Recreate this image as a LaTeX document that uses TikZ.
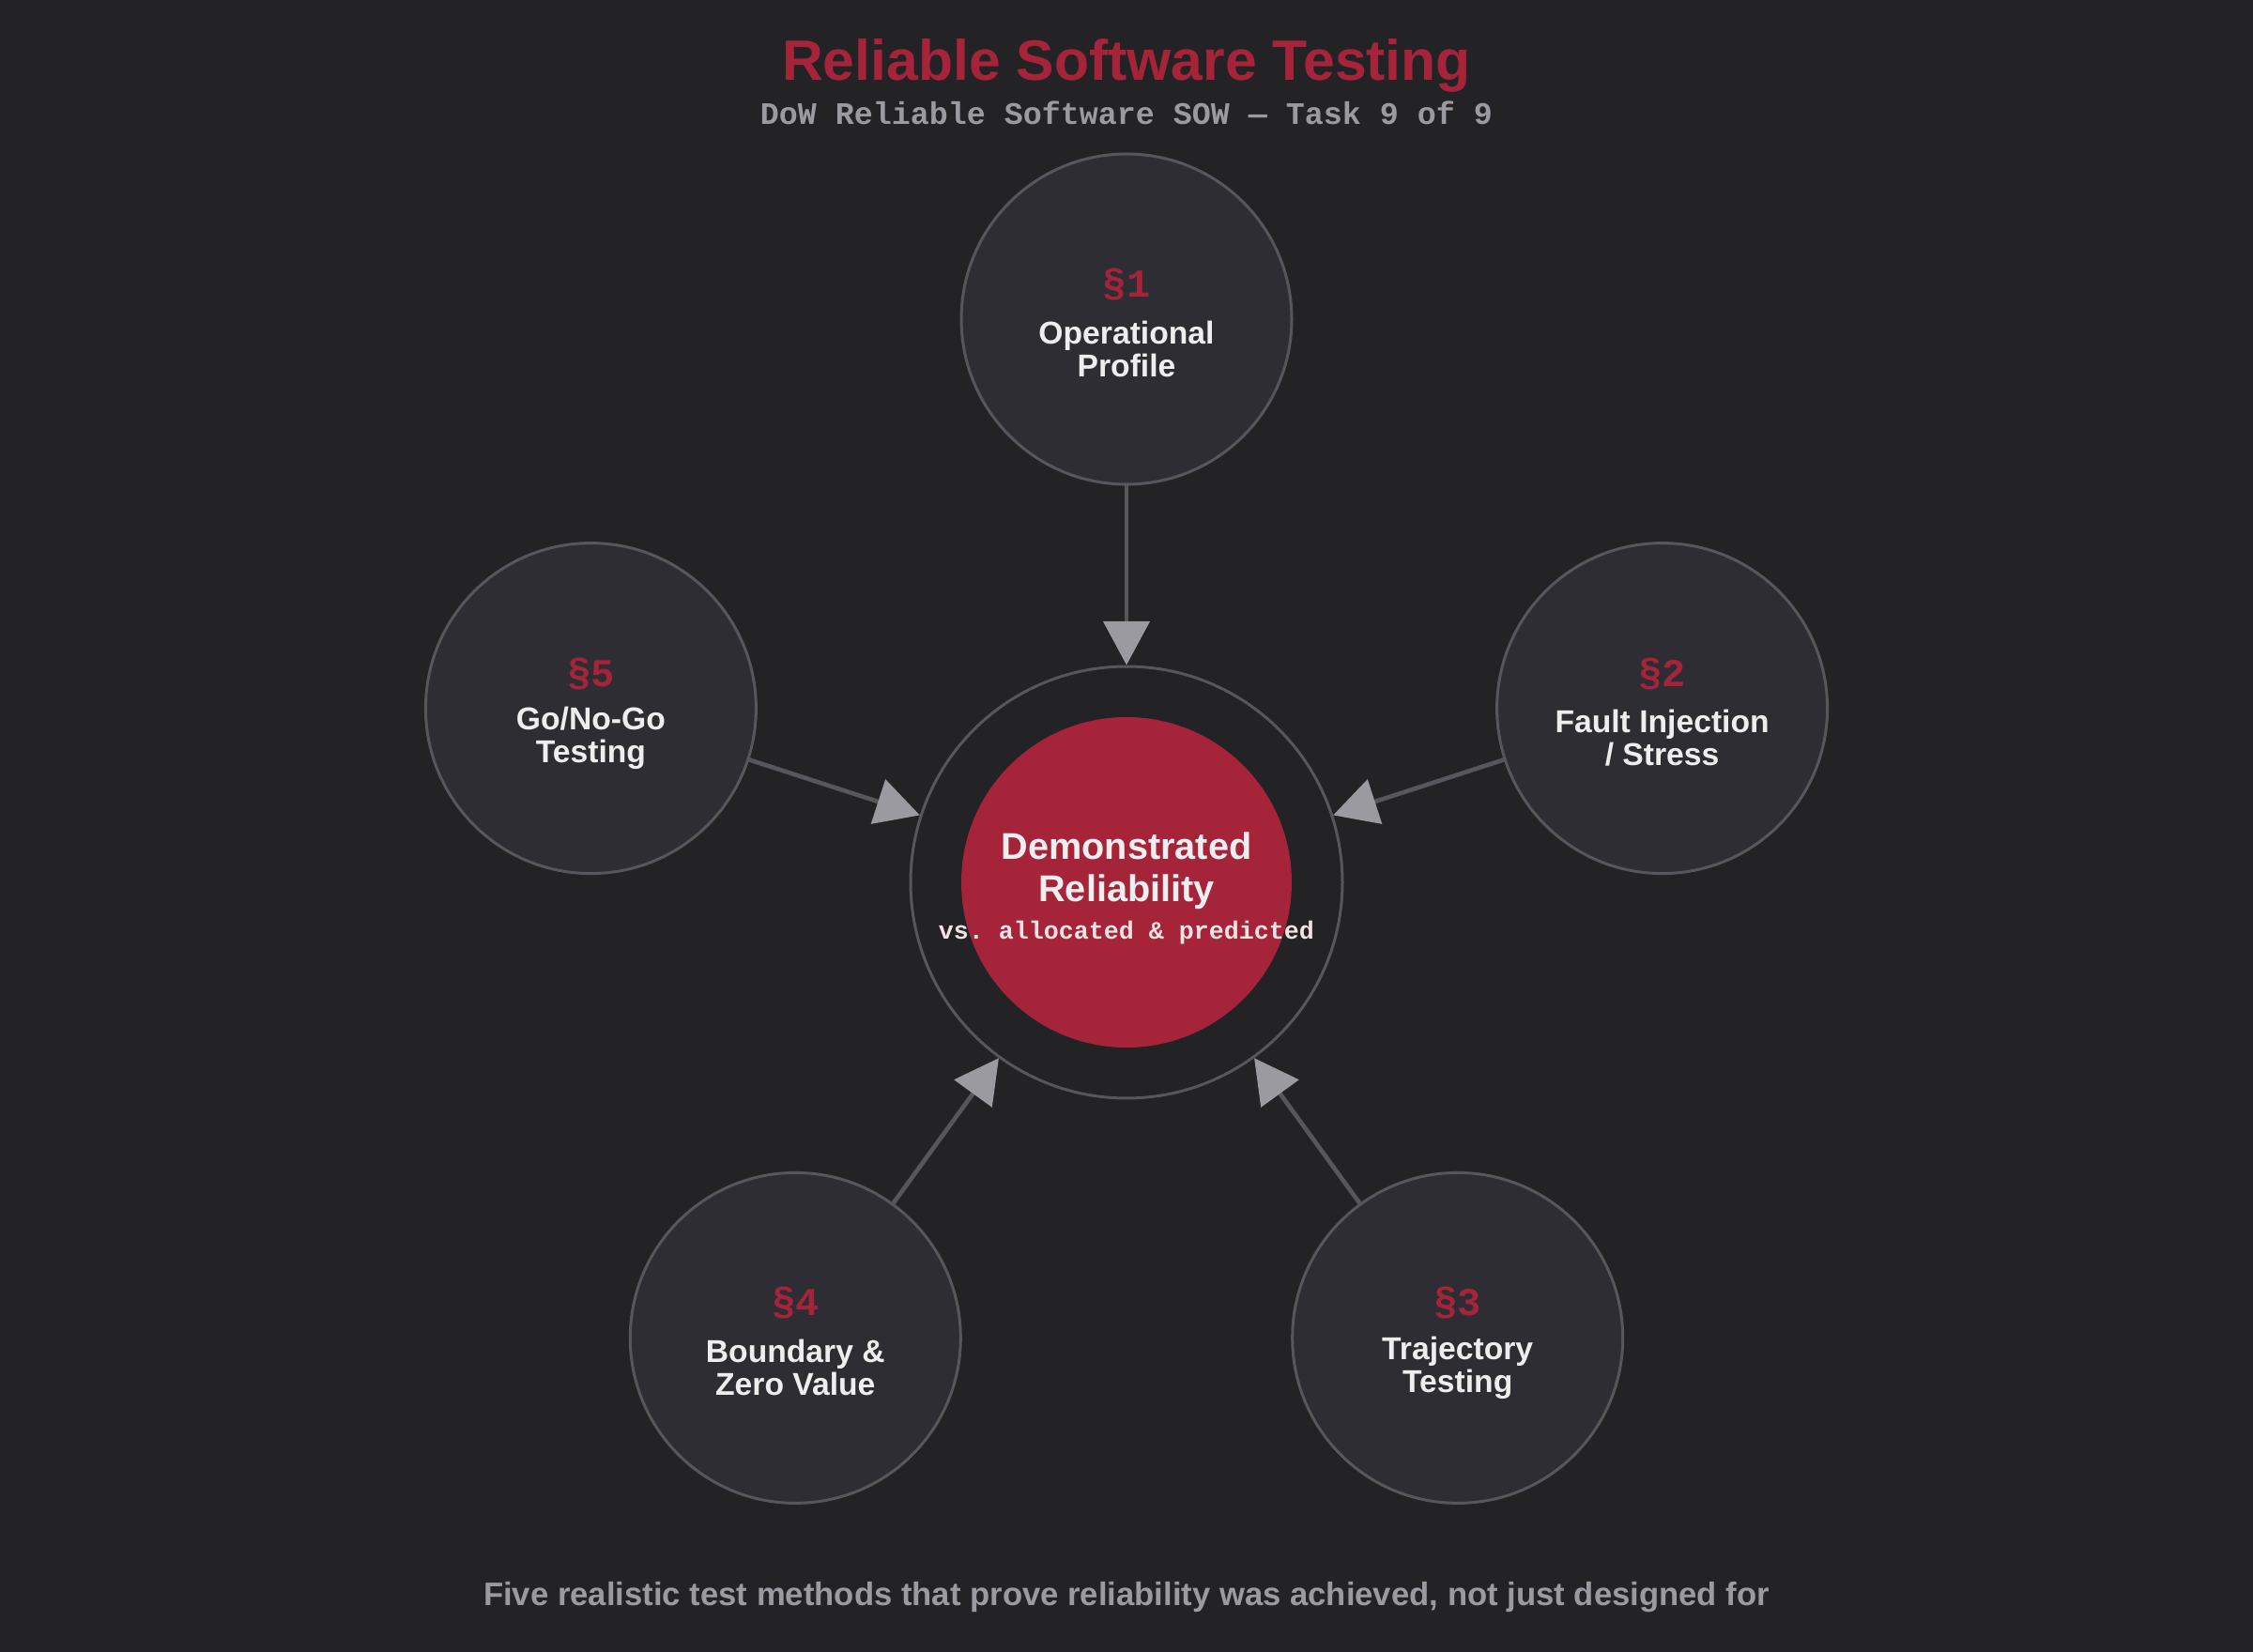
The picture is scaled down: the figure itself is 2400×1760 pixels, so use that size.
\documentclass[tikz,border=0pt]{standalone}
\usepackage{fontspec}
\setmainfont{Liberation Sans}
\setmonofont{Liberation Mono}
\usetikzlibrary{arrows.meta,calc}
\definecolor{bg}{HTML}{232326}
\definecolor{cfill}{HTML}{2E2D33}
\definecolor{cline}{HTML}{56565C}
\definecolor{redc}{HTML}{A5243A}
\definecolor{txtw}{HTML}{EEEEEE}
\definecolor{greyt}{HTML}{9A9AA0}
\definecolor{pinkt}{HTML}{F2E2E2}
\tikzset{
  method/.style={circle,draw=cline,fill=cfill,line width=0.9pt,minimum size=105.6pt,inner sep=0pt},
  secnum/.style={font=\ttfamily\bfseries\fontsize{12.6}{13}\selectfont,text=redc},
  mlabel/.style={font=\bfseries\fontsize{10.1}{10.5}\selectfont,text=txtw,align=center},
  conn/.style={draw=cline,line width=1.4pt,-{Triangle[width=14.7pt,length=14pt,color=greyt]}}
}
\begin{document}
\begin{tikzpicture}[x=0.3pt,y=-0.3pt]
\fill[bg] (0,0) rectangle (2400,1760);
\useasboundingbox (0,0) rectangle (2400,1760);
% title
\node[font=\bfseries\fontsize{18.2}{20}\selectfont,text=redc] (title) at (1200,70) {Reliable Software Testing};
\node[font=\ttfamily\bfseries\fontsize{10}{11}\selectfont,text=greyt] (sub) at (1200,120) {DoW Reliable Software SOW — Task 9 of 9};
% center
\node[circle,draw=cline,line width=0.9pt,minimum size=138pt,inner sep=0pt] (outer) at (1200,940) {};
\node[circle,fill=redc,minimum size=105.6pt,inner sep=0pt] (core) at (1200,940) {};
\node[font=\bfseries\fontsize{11.9}{13.5}\selectfont,text=txtw,align=center] (ctitle) at (1200,928) {Demonstrated\\Reliability};
\node[font=\ttfamily\bfseries\fontsize{8}{9}\selectfont,text=pinkt] (csub) at (1200,994) {vs. allocated \& predicted};
% methods
\node[method] (c1) at (1200,340) {};
\node[method] (c2) at (1770.6,754.6) {};
\node[method] (c3) at (1552.7,1425.4) {};
\node[method] (c4) at (847.3,1425.4) {};
\node[method] (c5) at (629.4,754.6) {};
\foreach \n/\s/\t in {c1/1/{Operational\\Profile},c2/2/{Fault Injection\\/ Stress},c3/3/{Trajectory\\Testing},c4/4/{Boundary \&\\Zero Value},c5/5/{Go/No-Go\\Testing}}{
  \node[secnum] (\n s) at ($(\n)+(0,-37)$) {§\s};
  \node[mlabel] (\n t) at ($(\n)+(0,32)$) {\t};
}
% connectors
\foreach \n in {c1,c2,c3,c4,c5}{
  \draw[conn] (\n) -- (outer);
}
% footer
\node[font=\bfseries\fontsize{10.4}{12}\selectfont,text=greyt] (foot) at (1200,1702) {Five realistic test methods that prove reliability was achieved, not just designed for};
\end{tikzpicture}
\end{document}
